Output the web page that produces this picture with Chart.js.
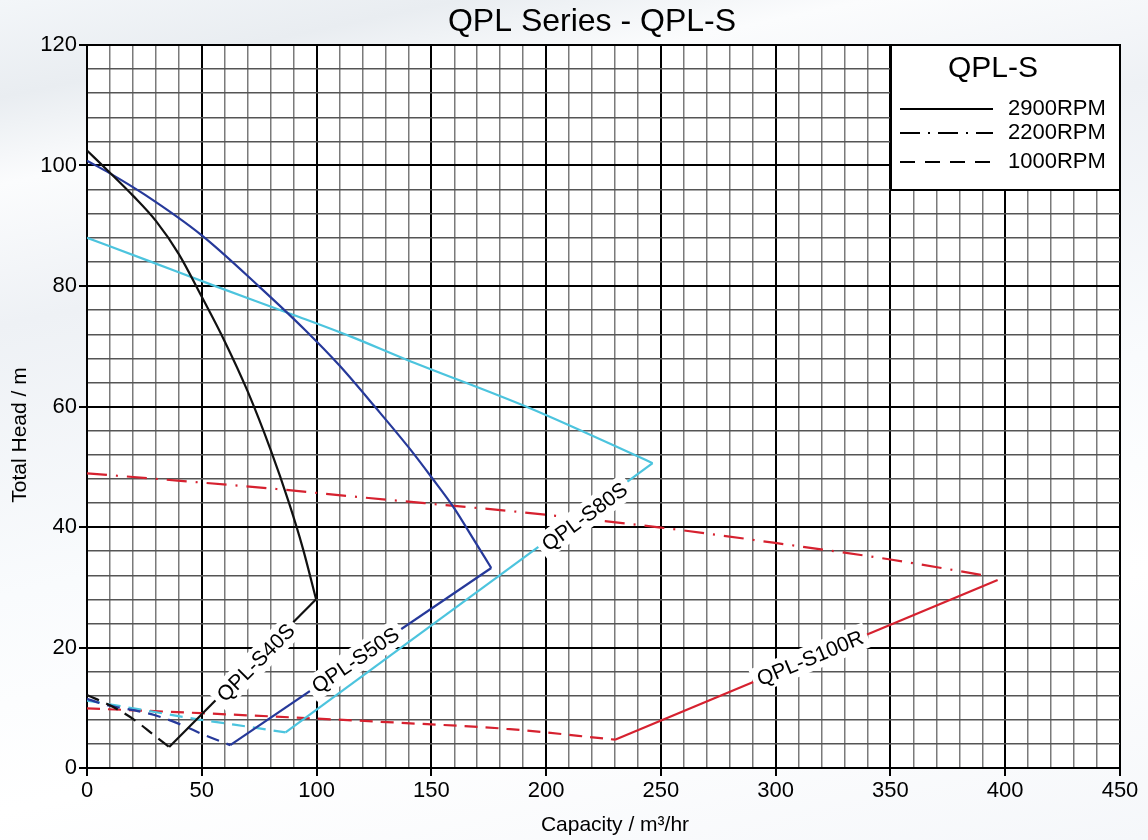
<!DOCTYPE html>
<html>
<head>
<meta charset="utf-8">
<script src="https://cdn.jsdelivr.net/npm/chart.js@4.4.1/dist/chart.umd.min.js"></script>
<style>
html,body{margin:0;padding:0;}
body{width:1148px;height:840px;overflow:hidden;
background:linear-gradient(168deg,#f3f6f9 0%,#e9edf1 9%,#fbfcfd 17%,#eef1f5 30%,#f9fbfd 55%,#ffffff 75%,#f5f7fa 100%);}
#c{display:block;}
</style>
</head>
<body>
<canvas id="c" width="1148" height="840"></canvas>
<script>
// ---------- text ----------
const chartTitle = 'QPL Series - QPL-S';
const xAxisTitle = 'Capacity / m\u00B3/hr';
const yAxisTitle = 'Total Head / m';
const legendTitle = 'QPL-S';
const rpmNames = ['2900RPM', '2200RPM', '1000RPM'];
const pumpNames = ['QPL-S40S', 'QPL-S50S', 'QPL-S80S', 'QPL-S100R'];

// ---------- tick labels ----------
const xTickLabels = [0, 50, 100, 150, 200, 250, 300, 350, 400, 450];
const yTickLabels = [0, 20, 40, 60, 80, 100, 120];

// ---------- QPL-S40S ----------
const s40_2900_q = [0, 10, 20, 30, 40, 50, 60, 70, 80, 88, 94, 99.8];
const s40_2900_h = [102.5, 98.8, 95.0, 90.8, 85.3, 78.2, 70.8, 62.5, 52.8, 44, 36.5, 28];
const s40_link_q = [99.8, 35.8];
const s40_link_h = [28, 3.5];
const s40_1000_q = [0, 10, 20.6, 29.3, 35.8];
const s40_1000_h = [12.1, 10.4, 8, 5.4, 3.5];

// ---------- QPL-S50S ----------
const s50_2900_q = [0, 10, 25, 50, 75, 95, 110, 126, 141, 150, 160, 168, 176.1];
const s50_2900_h = [100.8, 98.7, 95.2, 88.4, 79.9, 72.7, 66.8, 59.7, 52.8, 48.3, 43.1, 38.2, 33.2];
const s50_link_q = [176.1, 62.4];
const s50_link_h = [33.2, 3.8];
const s50_1000_q = [0, 6.1, 29.3, 40.9, 51, 62.4];
const s50_1000_h = [11.5, 10.7, 8.8, 7.2, 5.5, 3.8];

// ---------- QPL-S80S ----------
const s80_2900_q = [0, 28, 55, 90, 115, 139, 193, 246.4];
const s80_2900_h = [88, 84, 80.1, 75.2, 71.6, 67.8, 59.7, 50.6];
const s80_link_q = [246.4, 86.5];
const s80_link_h = [50.6, 5.9];
const s80_1000_q = [0, 24.9, 49.6, 64.1, 86.5];
const s80_1000_h = [11.2, 9.6, 8.0, 7.2, 5.9];

// ---------- QPL-S100R ----------
const s100_2200_q = [0, 29.7, 85.7, 114.8, 160, 182.8, 250, 299, 350, 392];
const s100_2200_h = [48.9, 48, 46.2, 45.1, 43.5, 42.7, 39.9, 37.4, 34.6, 31.9];
const s100_link_q = [396.7, 230];
const s100_link_h = [31.2, 4.7];
const s100_1000_q = [0, 49.6, 136.5, 182.8, 230];
const s100_1000_h = [9.9, 9.1, 7.5, 6.5, 4.7];

// ---------- styles ----------
const FONT = "'Liberation Sans', Arial, Helvetica, sans-serif";
const C_BLACK = '#111111';
const C_BLUE = '#26399a';
const C_CYAN = '#4cc4de';
const C_RED = '#d6212f';
const DASH_2200 = [20, 9, 2, 9];
const DASH_1000 = [13, 8];

function pts(q, h) { return q.map((v, i) => ({ x: v, y: h[i] })); }

function curve(q, h, color, dash) {
  return { data: pts(q, h), borderColor: color, borderWidth: 2.2, borderDash: dash || [],
    pointRadius: 0, fill: false, cubicInterpolationMode: 'monotone', tension: 0.4 };
}
function link(q, h, color) {
  return { data: pts(q, h), borderColor: color, borderWidth: 2.2, pointRadius: 0, fill: false, tension: 0 };
}

const datasets = [
  curve(s40_2900_q, s40_2900_h, C_BLACK),
  link(s40_link_q, s40_link_h, C_BLACK),
  curve(s40_1000_q, s40_1000_h, C_BLACK, DASH_1000),
  curve(s50_2900_q, s50_2900_h, C_BLUE),
  link(s50_link_q, s50_link_h, C_BLUE),
  curve(s50_1000_q, s50_1000_h, C_BLUE, DASH_1000),
  curve(s80_2900_q, s80_2900_h, C_CYAN),
  link(s80_link_q, s80_link_h, C_CYAN),
  curve(s80_1000_q, s80_1000_h, C_CYAN, DASH_1000),
  curve(s100_2200_q, s100_2200_h, C_RED, DASH_2200),
  link(s100_link_q, s100_link_h, C_RED),
  curve(s100_1000_q, s100_1000_h, C_RED, DASH_1000)
];

// label placement along each pump's link line (dataset index, fraction from upper end)
const labelPlacement = [
  { ds: 1, t: 0.42, off: 2 },
  { ds: 4, t: 0.52, off: 0 },
  { ds: 7, t: 0.19, off: 3 },
  { ds: 10, t: 0.49, off: 0 }
];

const areaBg = {
  id: 'areaBg',
  beforeDraw(chart) {
    const { ctx, chartArea: a } = chart;
    ctx.save();
    ctx.fillStyle = '#ffffff';
    ctx.fillRect(a.left, a.top, a.right - a.left, a.bottom - a.top);
    ctx.restore();
  }
};

const titles = {
  id: 'titles',
  afterDraw(chart) {
    const { ctx } = chart;
    ctx.save();
    ctx.fillStyle = '#000';
    ctx.textAlign = 'center';
    ctx.textBaseline = 'middle';
    ctx.font = '32px ' + FONT;
    ctx.fillText(chartTitle, 592, 22);
    ctx.font = '21px ' + FONT;
    ctx.fillText(xAxisTitle, 615, 825);
    ctx.translate(20, 435);
    ctx.rotate(-Math.PI / 2);
    ctx.fillText(yAxisTitle, 0, 0);
    ctx.restore();
  }
};

const curveLabels = {
  id: 'curveLabels',
  afterDatasetsDraw(chart) {
    const { ctx } = chart;
    const xs = chart.scales.x, ys = chart.scales.y;
    ctx.save();
    ctx.font = '21px ' + FONT;
    labelPlacement.forEach((lp, i) => {
      const d = chart.data.datasets[lp.ds].data;
      const x1 = xs.getPixelForValue(d[0].x), y1 = ys.getPixelForValue(d[0].y);
      const x2 = xs.getPixelForValue(d[1].x), y2 = ys.getPixelForValue(d[1].y);
      const px = x1 + (x2 - x1) * lp.t, py = y1 + (y2 - y1) * lp.t;
      const ang = Math.atan2(y1 - y2, x1 - x2);
      const text = pumpNames[i];
      const w = ctx.measureText(text).width;
      ctx.save();
      ctx.translate(px, py);
      ctx.rotate(ang);
      ctx.translate(0, lp.off);
      ctx.fillStyle = '#ffffff';
      ctx.fillRect(-w / 2 - 5, -13, w + 10, 26);
      ctx.fillStyle = '#000000';
      ctx.textAlign = 'center';
      ctx.textBaseline = 'middle';
      ctx.fillText(text, 0, 1);
      ctx.restore();
    });
    ctx.restore();
  }
};

const rpmLegend = {
  id: 'rpmLegend',
  afterDraw(chart) {
    const { ctx, chartArea: a } = chart;
    const w = 229, h = 145;
    const left = a.right - w, top = a.top;
    ctx.save();
    ctx.fillStyle = '#ffffff';
    ctx.fillRect(left, top, w, h);
    ctx.strokeStyle = '#000000';
    ctx.lineWidth = 2;
    ctx.strokeRect(left, top, w, h);
    ctx.fillStyle = '#000000';
    ctx.textBaseline = 'middle';
    ctx.textAlign = 'center';
    ctx.font = '30px ' + FONT;
    ctx.fillText(legendTitle, left + 102, top + 24);
    const rows = [top + 64, top + 88, top + 117];
    const dashes = [[], [20, 8, 2, 8], [15, 10]];
    ctx.font = '22px ' + FONT;
    ctx.textAlign = 'left';
    rows.forEach((ry, i) => {
      ctx.beginPath();
      ctx.setLineDash(dashes[i]);
      ctx.lineWidth = 2;
      ctx.moveTo(left + 9, ry);
      ctx.lineTo(left + 102, ry);
      ctx.stroke();
      ctx.setLineDash([]);
      ctx.fillText(rpmNames[i], left + 117, ry);
    });
    ctx.restore();
  }
};

function isMajor(v, step) { return Math.abs(v / step - Math.round(v / step)) < 1e-6; }

new Chart(document.getElementById('c'), {
  type: 'line',
  data: { datasets },
  plugins: [areaBg, curveLabels, rpmLegend, titles],
  options: {
    responsive: false,
    animation: false,
    devicePixelRatio: 1,
    layout: { padding: { left: 0, right: 28, top: 45, bottom: 0 } },
    plugins: {
      legend: { display: false },
      tooltip: { enabled: false },
      title: { display: false }
    },
    scales: {
      x: {
        type: 'linear', min: 0, max: 450,
        afterFit(s) { s.height = 72; },
        ticks: { stepSize: 10, autoSkip: false, maxRotation: 0, color: '#000', padding: 2,
          font: { family: FONT, size: 22 },
          callback: v => xTickLabels.includes(Math.round(v)) && isMajor(v, 50) ? String(Math.round(v)) : '' },
        grid: {
          color: c => (c.tick && isMajor(c.tick.value, 50)) ? '#000' : '#7a7a7a',
          lineWidth: c => (c.tick && isMajor(c.tick.value, 50)) ? 2 : 1.5,
          tickColor: c => (c.tick && isMajor(c.tick.value, 50)) ? '#000' : 'rgba(0,0,0,0)',
          tickWidth: 2, tickLength: 8, drawTicks: true
        },
        border: { display: true, color: '#000', width: 2 },
        title: { display: false }
      },
      y: {
        type: 'linear', min: 0, max: 120,
        afterFit(s) { s.width = 87; },
        ticks: { stepSize: 4, autoSkip: false, color: '#000', padding: 2,
          font: { family: FONT, size: 22 },
          callback: v => yTickLabels.includes(Math.round(v)) && isMajor(v, 20) ? String(Math.round(v)) : '' },
        grid: {
          color: c => (c.tick && isMajor(c.tick.value, 20)) ? '#000' : '#555555',
          lineWidth: c => (c.tick && isMajor(c.tick.value, 20)) ? 2 : 1.4,
          tickColor: c => (c.tick && isMajor(c.tick.value, 20)) ? '#000' : 'rgba(0,0,0,0)',
          tickWidth: 2, tickLength: 8, drawTicks: true
        },
        border: { display: true, color: '#000', width: 2 },
        title: { display: false }
      }
    }
  }
});
</script>
</body>
</html>
